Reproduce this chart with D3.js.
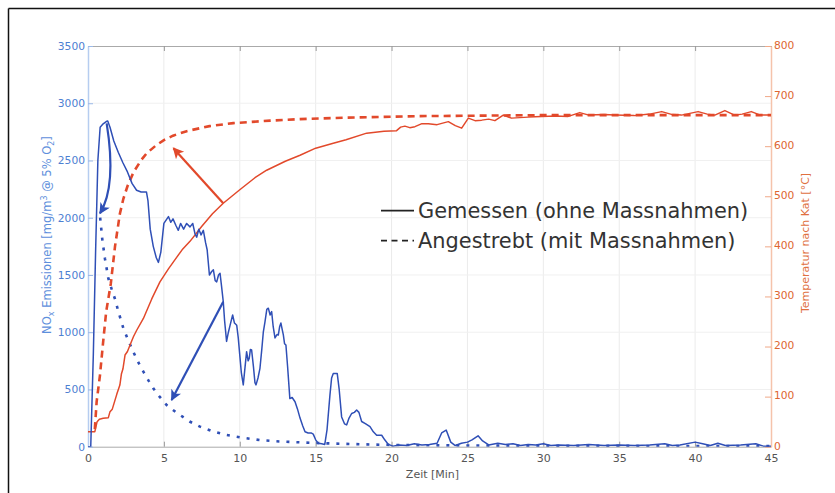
<!DOCTYPE html>
<html><head><meta charset="utf-8">
<script src="https://cdn.jsdelivr.net/npm/d3@7"></script>
<style>
body{margin:0;background:#fff;}
svg{display:block;font-family:"DejaVu Sans",sans-serif;}
</style></head>
<body><svg id="c" width="835" height="493"></svg>
<script>
// ---- data ----
const xTicks = [0,5,10,15,20,25,30,35,40,45];
const noxTicks = [0,500,1000,1500,2000,2500,3000,3500];
const tempTicks = [0,100,200,300,400,500,600,700,800];

// measured NOx [min, mg/m3]
const noxMeasured = [
[0,0],[0.18,0],[0.35,800],[0.5,1700],[0.65,2500],[0.8,2790],[1.0,2820],[1.2,2840],[1.3,2845],[1.45,2790],
[1.7,2670],[2.0,2570],[2.3,2480],[2.6,2400],[2.9,2300],[3.2,2240],[3.5,2225],[3.85,2225],[3.95,2150],[4.1,1900],
[4.3,1750],[4.5,1650],[4.64,1610],[4.8,1700],[5.0,1950],[5.2,1990],[5.3,2010],[5.45,1960],[5.6,1990],[5.8,1930],
[5.95,1890],[6.1,1950],[6.3,1900],[6.5,1950],[6.72,1920],[6.9,1950],[7.05,1860],[7.16,1830],[7.3,1900],[7.45,1850],
[7.6,1890],[7.75,1780],[7.85,1720],[8.0,1500],[8.15,1530],[8.26,1545],[8.38,1450],[8.48,1440],[8.6,1500],[8.7,1515],
[8.8,1400],[8.91,1270],[9.0,1100],[9.13,920],[9.25,1000],[9.36,1060],[9.53,1150],[9.65,1080],[9.8,1060],[9.9,950],
[10.0,800],[10.1,650],[10.23,540],[10.35,700],[10.45,830],[10.55,750],[10.62,770],[10.7,850],[10.78,845],[10.9,700],
[11.0,560],[11.07,540],[11.2,600],[11.33,685],[11.45,850],[11.55,1000],[11.66,1090],[11.78,1200],[11.88,1210],[12.0,1150],
[12.1,1180],[12.2,1050],[12.32,950],[12.45,980],[12.54,976],[12.63,1050],[12.71,1080],[12.8,1020],[12.87,976],[12.95,900],
[13.04,888],[13.15,700],[13.3,420],[13.45,430],[13.64,393],[13.8,330],[13.97,250],[14.15,180],[14.3,130],[14.5,120],
[14.7,120],[14.84,110],[15.0,60],[15.17,30],[15.4,25],[15.6,20],[15.75,150],[15.94,450],[16.05,600],[16.16,640],
[16.42,640],[16.55,500],[16.71,260],[16.9,200],[17.04,190],[17.2,250],[17.37,290],[17.55,300],[17.7,320],[17.85,300],
[18.03,220],[18.3,200],[18.58,175],[18.8,130],[19.02,100],[19.35,100],[19.55,60],[19.79,20],[20.1,5],[20.5,15],
[21,10],[21.5,25],[22,15],[22.5,20],[23,30],[23.3,120],[23.6,145],[23.9,40],[24.2,10],[24.6,30],
[25,40],[25.3,60],[25.7,95],[26,50],[26.4,15],[27,30],[27.5,20],[28,25],[28.5,10],[29,20],
[29.5,15],[30,25],[30.5,10],[31,15],[32,10],[33,20],[34,10],[35,15],[36,10],[37,15],
[38,25],[38.5,10],[39,15],[40,40],[40.5,25],[41,10],[41.5,30],[42,10],[43,15],[44,25],[44.5,5],[45,5]];

// target NOx
const noxTarget = [
[0.8,2000],[0.95,1800],[1.12,1640],[1.34,1470],[1.55,1380],[1.78,1290],[2.0,1180],[2.33,1034],[2.65,930],[2.98,830],
[3.3,740],[3.65,655],[4.0,575],[4.3,510],[4.7,440],[5.18,364],[5.6,320],[6.06,277],[6.7,220],[7.38,175],
[8.2,135],[9.13,102],[10.2,78],[11.33,58],[12.6,46],[13.97,38],[15.5,30],[17.26,24],[19,18],[20.55,15],
[23,12],[26,10],[30,8],[35,7],[40,6],[45,5]];

// measured temperature [min, °C]
const tempMeasured = [
[0,30],[0.45,30],[0.6,50],[0.75,55],[1.0,57],[1.34,58],[1.45,70],[1.6,75],[1.78,93],[1.9,105],
[2.1,123],[2.2,145],[2.3,155],[2.44,183],[2.6,190],[2.77,203],[3.0,220],[3.2,232],[3.65,256],[4.2,295],
[4.74,329],[5.3,355],[5.84,378],[6.2,393],[6.72,410],[7.5,440],[8.2,465],[8.91,486],[10,513],[11,537],
[11.77,552],[13,570],[13.97,582],[15,596],[16.16,606],[17,613],[18.36,626],[19.5,630],[20.33,631],[20.6,638],
[20.88,640],[21.2,637],[21.54,639],[22,645],[22.42,645],[23,643],[23.74,649],[24.2,641],[24.62,636],[25.06,656],
[25.5,651],[25.94,652],[26.4,654],[26.81,651],[27.36,662],[27.9,656],[29,658],[29.9,659],[30.8,660],[31.6,659],
[32.4,667],[33,662],[34,663],[34.7,662],[36,661],[37,664],[37.8,669],[38.5,663],[39.1,662],[40.2,669],
[40.8,664],[41.3,662],[41.96,671],[42.6,662],[43.1,664],[43.7,669],[44.3,662],[45,662]];

// target temperature
const tempTarget = [
[0.45,35],[0.57,90],[0.79,143],[1.0,210],[1.2,270],[1.5,325],[1.78,400],[2.1,465],[2.33,495],[2.6,520],
[3.0,548],[3.5,572],[3.87,586],[4.5,602],[5.0,612],[5.6,621],[6.5,630],[8,640],[9.57,646],[12,651],
[13.97,654],[17,657],[21.87,660],[26,661],[30,662],[35,662],[40,662],[45,662]];

// annotation arrows (data units)
const redArrow = {from:[8.91,486], to:[5.63,596]};          // temperature axis
const blueArrow = {from:[8.91,1267], to:[5.51,408]};        // NOx axis
const blueCurve = {from:[1.23,2824], ctrl:[1.89,2277], to:[0.79,2038]}; // NOx axis

const legendLabels = ["Gemessen (ohne Massnahmen)","Angestrebt (mit Massnahmen)"];

// ---- chart ----
const svg = d3.select("#c");
const L=88, R=771, T=46, B=446.7;
const x = d3.scaleLinear().domain([0,45]).range([L,R]);
const yL = d3.scaleLinear().domain([0,3500]).range([B,T]);
const yR = d3.scaleLinear().domain([0,800]).range([B,T]);
const fmt = d3.format("d");

const BLUE="#2f4fb6", RED="#e2492b";
const BLUE_T="#4d80d2", RED_T="#de6630";

// outer frame (top & left)
svg.append("line").attr("x1",8.5).attr("x2",835).attr("y1",8.5).attr("y2",8.5).attr("stroke","#111").attr("stroke-width",1.5);
svg.append("line").attr("x1",8.5).attr("x2",8.5).attr("y1",8.5).attr("y2",493).attr("stroke","#111").attr("stroke-width",1.5);

// grid
const g = svg.append("g");
g.selectAll(".vg").data(xTicks.slice(1,-1)).join("line")
 .attr("x1",d=>x(d)).attr("x2",d=>x(d)).attr("y1",T).attr("y2",B)
 .attr("stroke","#ebebeb").attr("stroke-width",1);
g.selectAll(".hg").data(noxTicks.slice(1,-1)).join("line")
 .attr("x1",L).attr("x2",R).attr("y1",d=>yL(d)).attr("y2",d=>yL(d))
 .attr("stroke","#f0f0f0").attr("stroke-width",1);

// axes
const ax = svg.append("g").attr("transform",`translate(0,${B})`)
 .call(d3.axisBottom(x).tickValues(xTicks).tickFormat(fmt).tickSize(-5).tickSizeOuter(0).tickPadding(8));
ax.select(".domain").attr("stroke","#aaa");
ax.selectAll(".tick line").attr("stroke","#999");
ax.selectAll("text").attr("fill","#555").attr("font-size",11).attr("font-family","DejaVu Sans");

const axT = svg.append("g").attr("transform",`translate(0,${T})`)
 .call(d3.axisTop(x).tickValues(xTicks).tickSize(-5).tickSizeOuter(0).tickFormat(""));
axT.select(".domain").attr("stroke","#aaa");
axT.selectAll(".tick line").attr("stroke","#999");

const aL = svg.append("g").attr("transform",`translate(${L},0)`)
 .call(d3.axisLeft(yL).tickValues(noxTicks).tickFormat(fmt).tickSize(-5).tickSizeOuter(0).tickPadding(3));
aL.select(".domain").attr("stroke","#b6cdf0").attr("stroke-width",1.5);
aL.selectAll(".tick line").attr("stroke","#9bb9e8");
aL.selectAll("text").attr("fill",BLUE_T).attr("font-size",10.7).attr("font-family","DejaVu Sans");

const aR = svg.append("g").attr("transform",`translate(${R},0)`)
 .call(d3.axisRight(yR).tickValues(tempTicks).tickFormat(fmt).tickSize(-6).tickSizeOuter(0).tickPadding(3));
aR.select(".domain").attr("stroke","#f5c3ab").attr("stroke-width",1.5);
aR.selectAll(".tick line").attr("stroke","#f0a988");
aR.selectAll("text").attr("fill",RED_T).attr("font-size",10.7).attr("font-family","DejaVu Sans").attr("dy","0.22em");

// axis titles
svg.append("text").attr("x",x(22.5)+3).attr("y",478).attr("text-anchor","middle")
 .attr("fill","#555").attr("font-size",11).text("Zeit [Min]");

const lt = svg.append("text").attr("transform","translate(51,235) rotate(-90)")
 .attr("text-anchor","middle").attr("fill","#5e8fdc").attr("font-size",11.5);
lt.append("tspan").text("NO");
lt.append("tspan").attr("font-size",8).attr("dy",3).text("x");
lt.append("tspan").attr("dy",-3).text(" Emissionen [mg/m");
lt.append("tspan").attr("font-size",8).attr("dy",-4).text("3");
lt.append("tspan").attr("dy",4).text(" @ 5% O");
lt.append("tspan").attr("font-size",8).attr("dy",3).text("2");
lt.append("tspan").attr("dy",-3).text("]");

svg.append("text").attr("transform","translate(809,243) rotate(-90)")
 .attr("text-anchor","middle").attr("fill","#e0703f").attr("font-size",11)
 .text("Temperatur nach Kat [°C]");

// lines
const lineL = d3.line().x(d=>x(d[0])).y(d=>yL(d[1]));
const lineR = d3.line().x(d=>x(d[0])).y(d=>yR(d[1]));
const clip = svg.append("clipPath").attr("id","pc").append("rect")
 .attr("x",L).attr("y",T-5).attr("width",R-L).attr("height",B-T+5);
const pl = svg.append("g").attr("clip-path","url(#pc)");

pl.append("path").datum(tempTarget).attr("d",lineR).attr("fill","none")
 .attr("stroke",RED).attr("stroke-width",2.6).attr("stroke-dasharray","7,5");
pl.append("path").datum(noxTarget).attr("d",lineL).attr("fill","none")
 .attr("stroke",BLUE).attr("stroke-width",2.6).attr("stroke-dasharray","3,7");
pl.append("path").datum(tempMeasured).attr("d",lineR).attr("fill","none")
 .attr("stroke",RED).attr("stroke-width",1.5).attr("stroke-linejoin","round");
pl.append("path").datum(noxMeasured).attr("d",lineL).attr("fill","none")
 .attr("stroke",BLUE).attr("stroke-width",1.5).attr("stroke-linejoin","round");

// arrow markers
const defs = svg.append("defs");
[["ar",RED],["ab",BLUE]].forEach(([id,c])=>{
 defs.append("marker").attr("id",id).attr("viewBox","0 0 10 10").attr("refX",9).attr("refY",5)
  .attr("markerWidth",6).attr("markerHeight",5).attr("markerUnits","strokeWidth").attr("orient","auto")
  .append("path").attr("d","M0,0 L10,5 L0,10 L2.5,5 Z").attr("fill",c);
});
svg.append("line").attr("x1",x(redArrow.from[0])).attr("y1",yR(redArrow.from[1]))
 .attr("x2",x(redArrow.to[0])).attr("y2",yR(redArrow.to[1]))
 .attr("stroke",RED).attr("stroke-width",2.2).attr("marker-end","url(#ar)");
svg.append("line").attr("x1",x(blueArrow.from[0])).attr("y1",yL(blueArrow.from[1]))
 .attr("x2",x(blueArrow.to[0])).attr("y2",yL(blueArrow.to[1]))
 .attr("stroke",BLUE).attr("stroke-width",2.2).attr("marker-end","url(#ab)");
const bc = d3.path();
bc.moveTo(x(blueCurve.from[0]),yL(blueCurve.from[1]));
bc.quadraticCurveTo(x(blueCurve.ctrl[0]),yL(blueCurve.ctrl[1]),x(blueCurve.to[0]),yL(blueCurve.to[1]));
svg.append("path").attr("d",bc.toString()).attr("fill","none")
 .attr("stroke",BLUE).attr("stroke-width",2.2).attr("marker-end","url(#ab)");

// legend
const lg = svg.append("g");
const rows = [210.7, 240.7];
lg.append("line").attr("x1",381).attr("x2",414).attr("y1",rows[0]).attr("y2",rows[0])
 .attr("stroke","#222").attr("stroke-width",1.8);
lg.append("line").attr("x1",381).attr("x2",414).attr("y1",rows[1]).attr("y2",rows[1])
 .attr("stroke","#222").attr("stroke-width",1.8).attr("stroke-dasharray","6,4.5");
legendLabels.forEach((t,i)=>{
 lg.append("text").attr("x",418).attr("y",rows[i]+7.5).attr("fill","#333")
  .attr("font-size",20.9).text(t);
});
</script></body></html>
